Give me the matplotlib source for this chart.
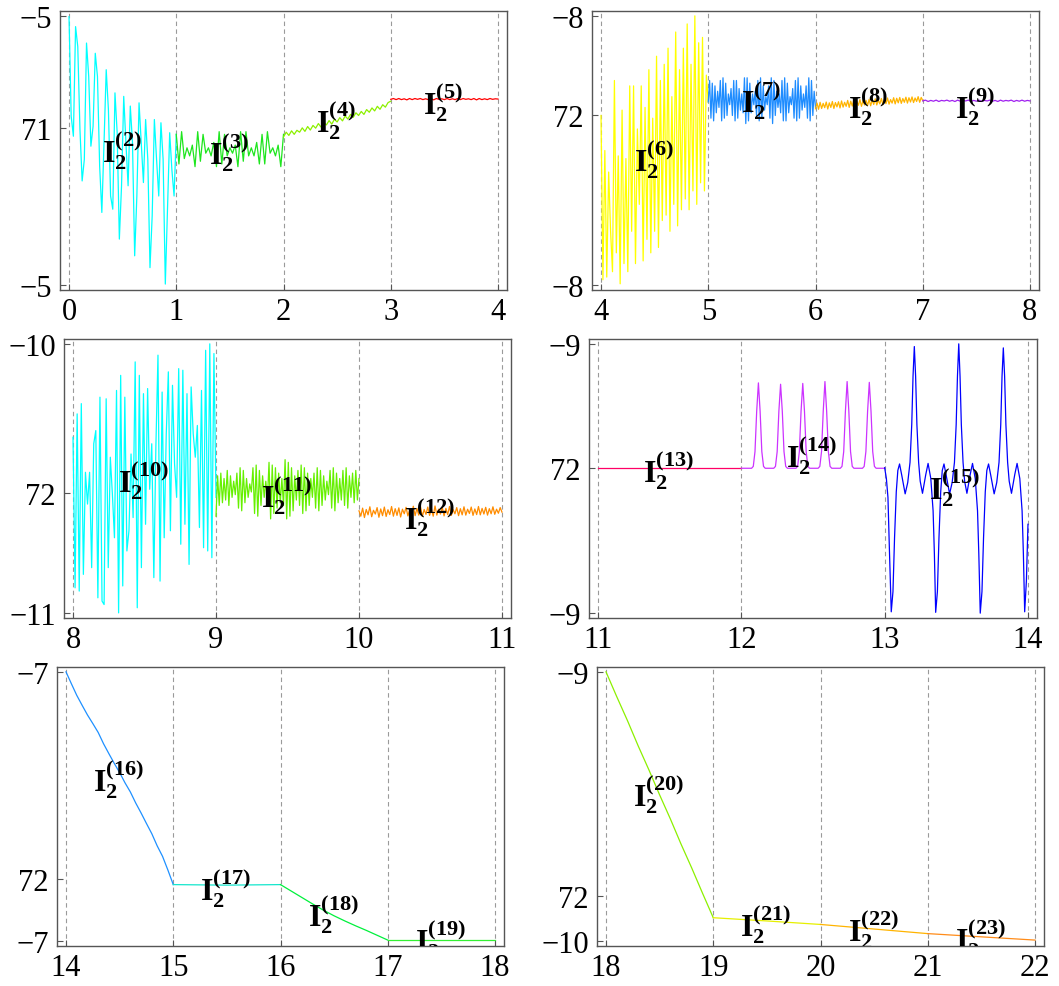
import numpy as np
import matplotlib
matplotlib.use('Agg')
import matplotlib.pyplot as plt

plt.rcParams['font.family'] = 'Liberation Serif'
plt.rcParams['mathtext.fontset'] = 'custom'
plt.rcParams['mathtext.rm'] = 'Liberation Serif'
plt.rcParams['mathtext.bf'] = 'Liberation Serif:bold'
plt.rcParams['mathtext.it'] = 'Liberation Serif:italic'

# ---- signal pieces, one list per interval (n-2 <= t <= n-1), level 0..100 ----
seg02 = [99.7, 62.7, 55.3, 96.0, 88.6, 57.8, 38.7, 46.7, 89.9, 77.5, 51.6, 59.0, 86.1,
         77.5, 44.2, 27.0, 52.9, 80.0, 65.2, 33.1, 28.2, 71.4, 56.6, 17.1, 36.9, 70.1,
         52.9, 36.9, 66.5, 52.9, 10.9, 33.1, 67.7, 52.9, 38.1, 61.5, 46.7, 6.5, 25.7,
         61.5, 46.7, 33.1, 60.3, 46.7, 0.4, 28.2, 56.6, 42.9, 33.1, 56.0]
seg03 = [56, 45, 57, 47, 51, 48, 52, 44, 57, 46, 56, 49, 51, 48, 53, 44, 57, 45, 56, 48,
         51, 49, 52, 44, 57, 46, 57, 48, 51, 48, 53, 45, 56, 45, 57, 49, 51, 48, 52, 44, 56]
seg04 = [55.0, 56.8, 55.6, 57.3, 56.0, 57.5, 56.8, 58.4, 57.1, 58.9, 57.6, 59.3, 58.3,
         60.0, 58.7, 60.4, 59.5, 61.1, 59.8, 61.6, 60.6, 62.2, 61.0, 62.8, 61.7, 63.4,
         62.3, 64.0, 63.0, 64.5, 63.4, 65.2, 64.2, 65.8, 64.7, 66.4, 65.3, 67.0, 66.1,
         67.8, 68.3]
seg05 = [69.0, 69.3, 68.9, 69.3, 68.9, 69.2, 68.8, 69.3, 68.9, 69.3, 69.0, 69.3, 68.9,
         69.2, 68.9, 69.3, 68.8, 69.3, 69.0, 69.2, 68.9, 69.3, 68.9, 69.2, 68.9, 69.3,
         68.9, 69.3, 69.0, 69.2, 68.9, 69.3, 68.8, 69.3, 68.9, 69.2, 68.9, 69.3, 69.0,
         69.2, 69.1]
seg06 = [63, 2, 50, 3, 42, 20, 5, 76, 12, 48, 0.5, 65, 8, 47, 5, 74, 20, 74, 8, 58, 30,
         74, 9, 66, 17, 80, 12, 62, 20, 85, 14, 76, 24, 82, 26, 88, 20, 70, 30, 94, 22,
         80, 28, 88, 32, 97, 28, 82, 35, 100, 30, 90, 38, 92, 35, 78, 68]
seg07 = [68, 76, 62, 75, 61, 74, 64, 72, 66, 76, 61, 77, 62, 75, 63, 71, 67, 73, 63, 76,
         61, 76, 62, 73, 65, 71, 64, 77, 60, 77, 61, 75, 64, 71, 67, 72, 63, 76, 61, 77,
         62, 74, 65, 70, 67, 74, 62, 77, 60, 76, 63, 72, 66, 71, 64, 76, 61, 77, 61, 75,
         64, 70, 67, 73, 62, 76, 61, 77, 62, 74, 65, 71, 66, 74, 62, 77, 61, 76, 63, 72, 66]
seg08 = [65.5, 67.6, 65.3, 67.9, 65.6, 67.5, 65.9, 68.0, 65.4, 67.7, 66.0, 68.2, 65.6,
         67.8, 66.2, 68.1, 65.8, 68.4, 66.1, 67.9, 66.4, 68.6, 66.0, 68.3, 66.5, 68.7,
         66.3, 68.2, 66.8, 68.9, 66.4, 68.5, 66.9, 68.6, 66.7, 69.0, 66.6, 68.8, 67.1,
         69.2, 66.9, 68.7, 67.3, 69.3, 67.0, 69.1, 67.4, 69.5, 67.2, 68.9, 67.6, 69.6,
         67.3, 69.4, 67.7, 69.7, 67.5, 69.3, 67.9, 69.8, 67.6, 69.6, 68.0, 69.9, 67.8,
         69.5, 68.2, 70.0, 67.9, 69.7, 68.6]
seg09 = [68.4, 68.7, 68.2, 68.6, 68.3, 68.7, 68.2, 68.6, 68.4, 68.7, 68.3, 68.6, 68.2,
         68.7, 68.3, 68.6, 68.4, 68.7, 68.2, 68.6, 68.3, 68.7, 68.2, 68.6, 68.4, 68.7,
         68.3, 68.6, 68.2, 68.7, 68.3, 68.6, 68.4, 68.7, 68.2, 68.6, 68.3, 68.7, 68.3,
         68.6, 68.4]
seg10 = [65.3, 9.4, 74.0, 8.2, 77.8, 14.4, 52.3, 40.5, 52.3, 16.9, 62.9, 67.8, 5.7, 80.2,
         4.5, 3.2, 79.6, 16.9, 57.9, 44.2, 28.0, 82.7, 0.1, 88.3, 10.1, 80.2, 23.1, 30.6,
         59.1, 35.5, 93.3, 2.0, 88.3, 16.9, 81.5, 33.0, 83.4, 46.0, 62.9, 13.2, 62.2,
         95.8, 11.9, 82.1, 28.0, 66.6, 89.6, 30.6, 84.6, 55.4, 43.0, 90.8, 25.6, 90.2,
         33.0, 81.5, 18.1, 84.0, 66.6, 57.9, 69.7, 31.8, 82.7, 24.3, 97.6, 23.1, 100.0,
         20.6, 96.4, 43.0]
seg11 = [36, 51, 40, 52, 41, 50, 42, 53, 40, 51, 43, 49, 44, 52, 39, 54, 38, 53, 41, 50,
         43, 48, 45, 54, 37, 55, 36, 53, 40, 51, 43, 49, 42, 56, 35, 55, 37, 54, 39, 52,
         41, 50, 40, 57, 35, 56, 36, 54, 38, 51, 42, 53, 40, 55, 37, 54, 38, 52, 40, 50,
         43, 52, 39, 54, 38, 53, 40, 51, 42, 49, 44, 53, 39, 54, 38, 52, 41, 50, 42, 53,
         40, 54, 39, 51, 43, 52, 41, 53, 42, 50]
seg12 = [38, 36, 39, 35.5, 38.5, 36.5, 39.5, 35.8, 38.2, 36.8, 39.2, 35.6, 38.7, 36.2,
         39.4, 35.9, 38.4, 36.6, 39.6, 36.0, 38.8, 36.3, 39.1, 35.7, 38.6, 36.9, 39.3,
         36.1, 38.3, 36.5, 39.7, 36.2, 38.9, 36.4, 39.5, 35.9, 38.5, 36.7, 39.4, 36.3,
         38.7, 36.0, 39.8, 36.4, 38.6, 36.8, 39.3, 36.1, 38.9, 36.6, 39.6, 36.3, 38.4,
         36.9, 39.2, 36.2, 38.8, 36.5, 39.5, 36.4, 38.6, 37.0, 39.4, 36.3, 38.7, 36.6,
         39.6, 36.5, 38.9, 36.8, 39.3, 36.4, 38.8, 36.9, 39.5, 36.7, 38.6, 37.1, 39.2, 37.5]
seg13 = [53.8, 53.8]
seg14 = [53.8, 53.8, 53.8, 53.8, 53.8, 53.8, 53.8,
         54.5, 60, 75, 85.5, 75, 60, 54.5,
         53.8, 53.8, 53.8, 53.8, 53.8, 53.8,
         54.5, 60, 75, 85, 75, 60, 54.5,
         53.8, 53.8, 53.8, 53.8, 53.8, 53.8,
         54.5, 60, 75, 85.3, 75, 60, 54.5,
         53.8, 53.8, 53.8, 53.8, 53.8, 53.8,
         54.5, 60, 75, 86, 75, 60, 54.5,
         53.8, 53.8, 53.8, 53.8, 53.8, 53.8,
         54.5, 60, 75, 86, 75, 60, 54.5,
         53.8, 53.8, 53.8, 53.8, 53.8, 53.8,
         54.5, 60, 75, 85.7, 75, 60, 54.5,
         53.8, 53.8, 53.8, 53.8, 53.8, 53.8]
seg15_t = [13.000, 13.012, 13.023, 13.034, 13.046,
           13.058, 13.069, 13.081, 13.092, 13.104, 13.120, 13.143, 13.161, 13.177, 13.189,
           13.198, 13.207, 13.216, 13.225, 13.237, 13.248, 13.264, 13.287, 13.303, 13.322,
           13.338, 13.347, 13.356,
           13.368, 13.379, 13.391, 13.402, 13.414, 13.430, 13.453, 13.471, 13.487, 13.499,
           13.508, 13.517, 13.526, 13.535, 13.547, 13.558, 13.574, 13.597, 13.613, 13.632,
           13.648, 13.657, 13.667,
           13.679, 13.690, 13.702, 13.713, 13.725, 13.741, 13.764, 13.782, 13.798, 13.810,
           13.819, 13.828, 13.837, 13.846, 13.858, 13.869, 13.885, 13.908, 13.924, 13.943,
           13.959, 13.968, 13.977,
           13.989, 14.000]
seg15 = [54, 50, 43, 22, 0.5,
         8, 28, 45, 53, 55.4, 51, 44.3, 48.5, 56, 70, 88, 99, 88, 70, 56, 49, 44.5, 51.5,
         55.6, 50, 38, 22, 0.3,
         8, 28, 45, 53, 55.4, 51, 44.3, 48.5, 56, 70, 88, 100, 88, 70, 56, 49, 44.5, 51.5,
         55.6, 50, 38, 22, 0,
         8, 28, 45, 53, 55.4, 51, 44.3, 48.5, 56, 70, 88, 98.5, 88, 70, 56, 49, 44.5, 51.5,
         55.6, 50, 38, 22, 0.5,
         12, 33]
seg16 = [100, 95.6, 91.3, 87.6, 84.0, 80.8, 77.5, 73.3, 69.6, 66.0, 62.6, 58.8, 55.4,
         51.3, 47.6, 43.7, 39.9, 35.4, 31.5, 26.4, 21.0]
seg17 = [21.0, 20.9, 20.8, 20.9, 21.0]
seg18 = [21.0, 18.6, 16.2, 13.8, 11.5, 9.4, 7.5, 5.7, 4.0, 2.2, 0.4]
seg19 = [0.4, 0.4]
seg20 = [100, 90.8, 81.9, 72.5, 63.6, 54.3, 45.4, 36.0, 27.1, 17.8, 8.7]
seg21 = [8.7, 7.5, 6.2]
seg22 = [6.2, 4.5, 2.8]
seg23 = [2.8, 1.6, 0.4]

# label heights for I_2^(n), same level units
label_y = [50.4, 49.8, 61.5, 68.5, 47.3, 68.9, 66.7, 67.0, 49.7, 44.1, 36.0,
           53.4, 59.0, 47.2, 60.4, 20.2, 10.3, 1.0, 54.8, 6.6, 4.7, 1.6]

# y tick positions and their printed labels, one per panel
ytick_pos = [[0, 58.5, 100], [0, 63, 100], [0, 44.5, 100],
             [0, 53.8, 100], [0, 23, 100], [0, 16.8, 100]]
ytick_txt = [['\u22125', '71', '\u22125'], ['\u22128', '72', '\u22128'],
             ['\u221211', '72', '\u221210'], ['\u22129', '72', '\u22129'],
             ['\u22127', '72', '\u22127'], ['\u221210', '72', '\u22129']]

panel_segs = [[2, 3, 4, 5], [6, 7, 8, 9], [10, 11, 12],
              [13, 14, 15], [16, 17, 18, 19], [20, 21, 22, 23]]

colors = {2: '#00FFFF', 3: '#1EE61E', 4: '#8CF000', 5: '#FF0000',
          6: '#FFFF00', 7: '#1E8CFF', 8: '#FFB400', 9: '#A020F0',
          10: '#00FFFF', 11: '#66F000', 12: '#FF8C00',
          13: '#FF0066', 14: '#CC33FF', 15: '#0000FF',
          16: '#1E90FF', 17: '#14E6CC', 18: '#00F03C', 19: '#33F033',
          20: '#8CF000', 21: '#E6F000', 22: '#FFB400', 23: '#FF8C1A'}

series = {2: seg02, 3: seg03, 4: seg04, 5: seg05, 6: seg06, 7: seg07, 8: seg08,
          9: seg09, 10: seg10, 11: seg11, 12: seg12, 13: seg13, 14: seg14, 15: seg15,
          16: seg16, 17: seg17, 18: seg18, 19: seg19, 20: seg20, 21: seg21, 22: seg22,
          23: seg23}

W, H = 1059, 987
# axes boxes in pixels: left, top, right, bottom
boxes = [(60, 12, 507, 291), (592, 12, 1039, 291),
         (64, 340, 511, 619), (589, 340, 1037, 619),
         (57, 668, 504, 947), (597, 668, 1044, 947)]

fig = plt.figure(figsize=(W / 100, H / 100), dpi=100)

for p, segs in enumerate(panel_segs):
    l, t, r, b = boxes[p]
    ax = fig.add_axes([l / W, 1 - b / H, (r - l) / W, (b - t) / H])
    lo, hi = segs[0] - 2, segs[-1] - 1
    span = hi - lo
    ax.set_xlim(lo - 0.021 * span, hi + 0.021 * span)
    ax.set_ylim(-1.8, 101.8)

    for xv in range(lo, hi + 1):
        ax.axvline(xv, color='#9a9a9a', lw=0.8, dashes=(4, 3), zorder=1)

    for n in segs:
        vals = series[n]
        if n == 15:
            xs = seg15_t
        else:
            xs = np.linspace(n - 2, n - 1, len(vals))
        ax.plot(xs, vals, color=colors[n], lw=0.9, zorder=2)
        ax.text(n - 2 + 0.49, label_y[n - 2],
                r'$\mathbf{I}_{\mathbf{2}}^{\mathbf{(%d)}}$' % n,
                fontsize=23, ha='center', va='center', clip_on=True, zorder=3)

    ax.set_xticks(range(lo, hi + 1))
    ax.set_yticks(ytick_pos[p], ytick_txt[p])
    ax.tick_params(direction='in', length=4, width=0.8, color='#555555',
                   labelsize=22, pad=5)
    ax.tick_params(axis='y', pad=6)
    for s in ax.spines.values():
        s.set_color('#555555')
        s.set_linewidth(1.0)

fig.savefig('out.png', dpi=100)
